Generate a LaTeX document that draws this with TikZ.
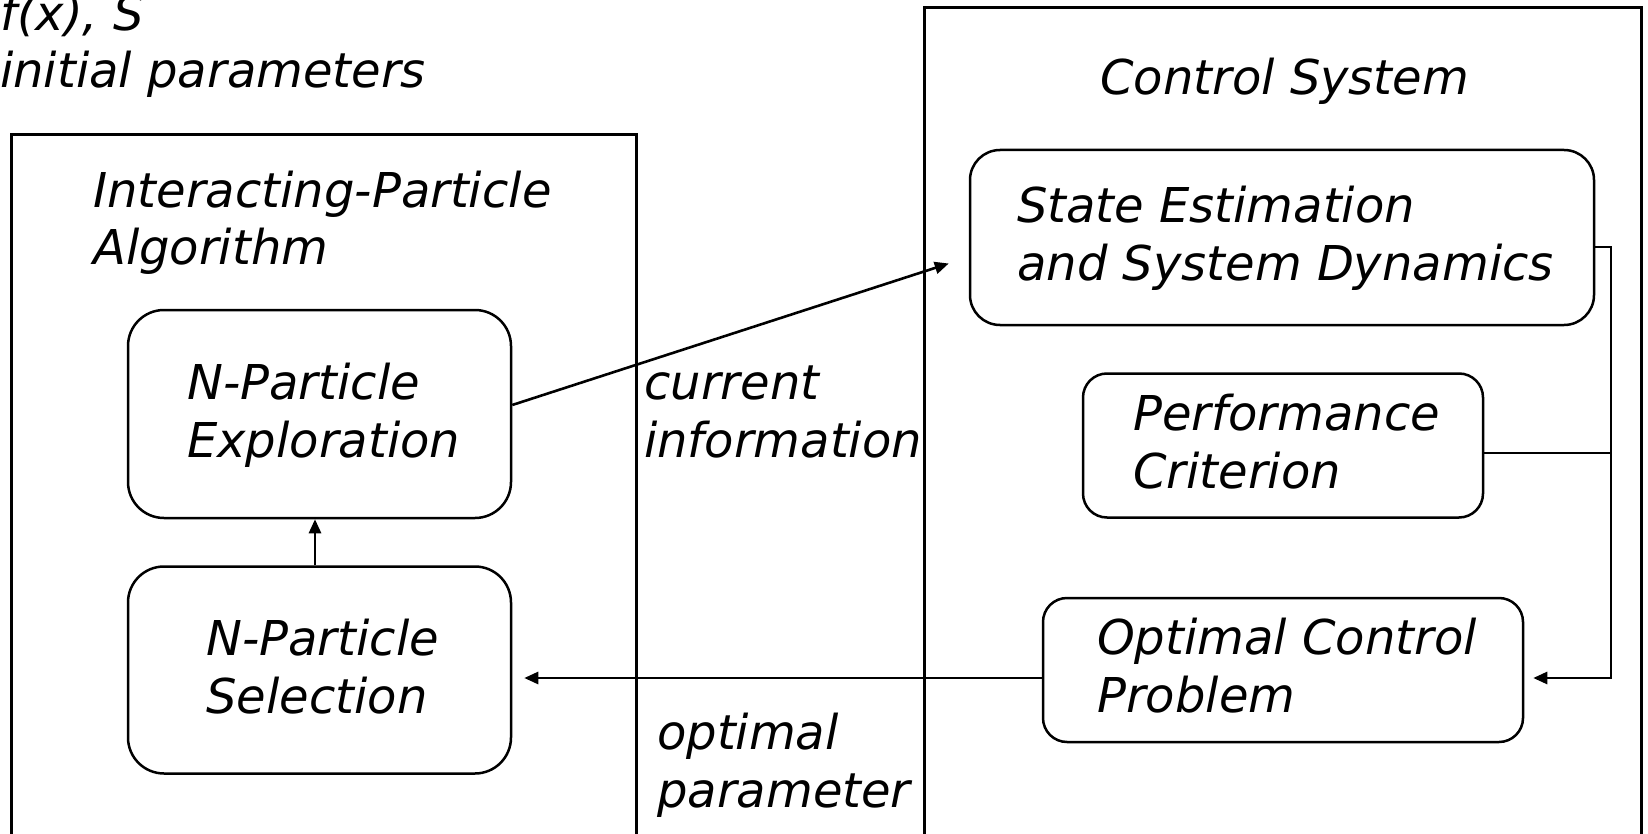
\documentclass[tikz,border=0pt]{standalone}
\usepackage{fontspec}
\setmainfont{DejaVu Sans}
\usetikzlibrary{arrows.meta}
\tikzset{
  outerbox/.style={draw, line width=2.7pt, rectangle, inner sep=0pt},
  rbox/.style={draw, line width=2.5pt, rectangle, inner sep=0pt},
  txt/.style={anchor=base west, inner sep=0pt, align=left, font=\fontsize{48}{57.5}\selectfont\itshape},
  conn/.style={line width=2.6pt},
  arr/.style={line width=2.6pt, -{Triangle[length=14pt,width=12pt]}}
}
\begin{document}
\begin{tikzpicture}[x=1pt,y=-1pt]
\useasboundingbox (0,0) rectangle (1648,834);
\clip (0,0) rectangle (1648,834);
% outer boxes
\node[outerbox, minimum width=625pt, minimum height=760pt, anchor=north west] (alg) at (10,133) {};
\node[outerbox, minimum width=717pt, minimum height=880pt, anchor=north west] (ctrl) at (923,6) {};
% rounded boxes
\node[rbox, rounded corners=30pt, minimum width=624pt, minimum height=175pt] (state) at (1282,237.5) {};
\node[rbox, rounded corners=24pt, minimum width=400pt, minimum height=144pt] (perf) at (1283,445.5) {};
\node[rbox, rounded corners=24pt, minimum width=480pt, minimum height=144pt] (opt) at (1283,670) {};
\node[rbox, rounded corners=36pt, minimum width=383pt, minimum height=208pt] (expl) at (319.5,414) {};
\node[rbox, rounded corners=36pt, minimum width=383pt, minimum height=207pt] (sel) at (319.5,670) {};
% texts (anchor = baseline of the last line)
\node[txt] (fx) at (0,88) {f(x), S\\initial parameters};
\node[txt] (algT) at (93,265) {Interacting-Particle\\Algorithm};
\node[txt] (ctrlT) at (1100,95) {Control System};
\node[txt] (stateT) at (1017,280) {State Estimation\\and System Dynamics};
\node[txt] (perfT) at (1133,488) {Performance\\Criterion};
\node[txt] (optT) at (1097,712) {Optimal Control\\Problem};
\node[txt] (explT) at (187,457) {N-Particle\\Exploration};
\node[txt] (selT) at (206,713) {N-Particle\\Selection};
\node[txt] (cur) at (644,457) {current\\information};
\node[txt] (optp) at (657,807) {optimal\\parameter};
% connectors
\coordinate (bus) at (1611,247);
\draw[arr] ([yshift=9pt]expl.east) -- ([xshift=-20pt,yshift=-26pt]state.west);
\draw[arr] ([xshift=-4.5pt]sel.north) -- ([xshift=-4.5pt]expl.south);
\draw[arr] ([yshift=-9.5pt]state.east) -- (bus) |- ([xshift=9pt,yshift=-8pt]opt.east);
\draw[conn] ([yshift=-7.5pt]perf.east) -- ([yshift=-7.5pt]perf.east -| bus);
\draw[arr] ([yshift=-8pt]opt.west) -- ([xshift=12pt,yshift=-8pt]sel.east);
\end{tikzpicture}
\end{document}
